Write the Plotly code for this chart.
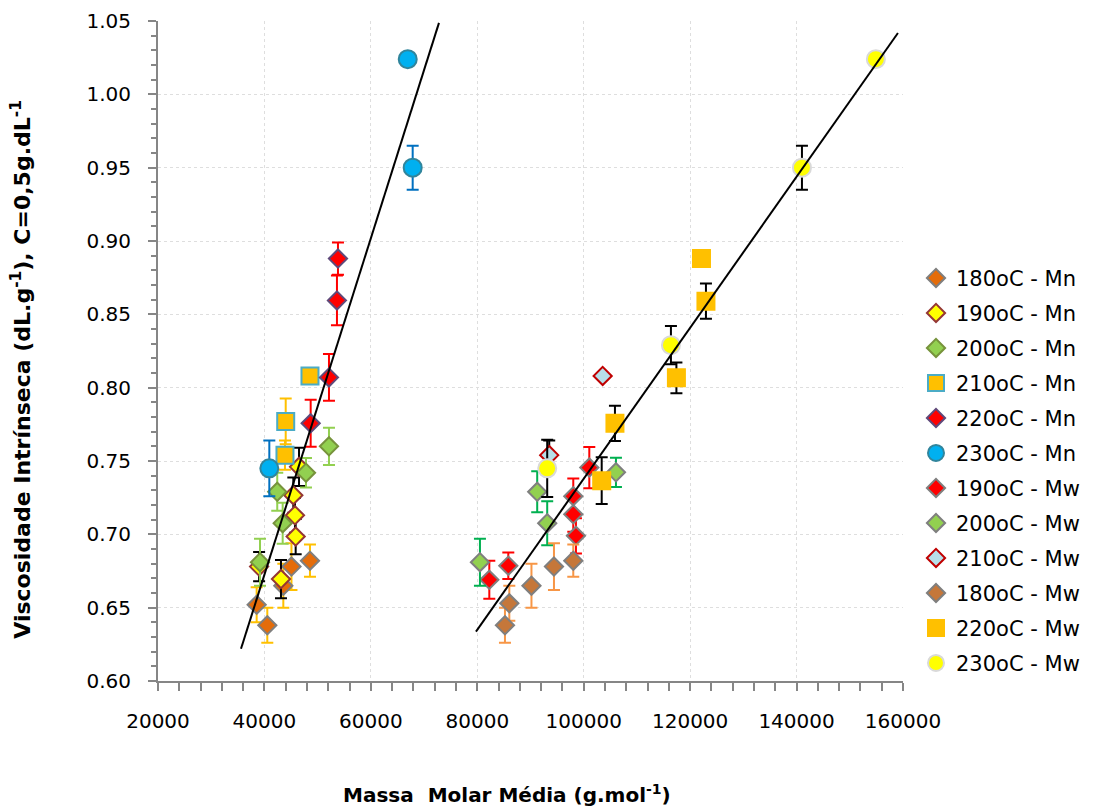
import plotly.graph_objects as go

# ---------------- data ----------------
names = ["180oC - Mn", "190oC - Mn", "200oC - Mn", "210oC - Mn", "220oC - Mn", "230oC - Mn",
         "190oC - Mw", "200oC - Mw", "210oC - Mw", "180oC - Mw", "220oC - Mw", "230oC - Mw"]

x_180_mn = [38540, 40540, 43550, 45080, 48560]
y_180_mn = [0.652, 0.638, 0.665, 0.678, 0.682]
e_180_mn = [0.012, 0.012, 0.015, 0.016, 0.011]

x_190_mn = [39000, 43110, 45870, 45740, 45430, 46500]
y_190_mn = [0.678, 0.6695, 0.6985, 0.713, 0.7267, 0.746]
e_190_mn = [0.010, 0.013, 0.012, 0.012, 0.012, 0.013]

x_200_mn = [39170, 42410, 43430, 47810, 52130]
y_200_mn = [0.681, 0.729, 0.7076, 0.742, 0.760]
e_200_mn = [0.016, 0.013, 0.014, 0.010, 0.0127]

x_210_mn = [43860, 44000, 48560]
y_210_mn = [0.754, 0.777, 0.808]
e_210_mn = [0.010, 0.0156, 0.0]

x_220_mn = [48690, 52130, 53630, 53820]
y_220_mn = [0.7757, 0.807, 0.8595, 0.888]
e_220_mn = [0.016, 0.016, 0.017, 0.011]

x_230_mn = [40920, 66930, 67860]
y_230_mn = [0.745, 1.024, 0.950]
e_230_mn = [0.019, 0.0, 0.015]

x_190_mw = [82260, 85830, 98540, 98040, 98040, 101050]
y_190_mw = [0.669, 0.6786, 0.699, 0.7137, 0.726, 0.7455]
e_190_mw = [0.013, 0.009, 0.012, 0.012, 0.012, 0.014]

x_200_mw = [80500, 91260, 93140, 106060]
y_200_mw = [0.681, 0.729, 0.7076, 0.7423]
e_200_mw = [0.016, 0.014, 0.015, 0.010]

x_210_mw = [93520, 103560]
y_210_mw = [0.754, 0.808]
e_210_mw = [0.010, 0.0]

x_180_mw = [85200, 86020, 90180, 94410, 98040]
y_180_mw = [0.638, 0.653, 0.665, 0.678, 0.682]
e_180_mw = [0.012, 0.012, 0.015, 0.016, 0.011]

x_220_mw = [103380, 105870, 117420, 122970, 122130]
y_220_mw = [0.7366, 0.7757, 0.8067, 0.859, 0.888]
e_220_mw = [0.016, 0.012, 0.0105, 0.012, 0.003]

x_230_mw = [93140, 116390, 141010, 154900]
y_230_mw = [0.745, 0.829, 0.950, 1.024]
e_230_mw = [0.0195, 0.013, 0.015, 0.0]

# linear trend lines: end points
trend_mn_x = [35600, 72800]
trend_mn_y = [0.622, 1.0487]
trend_mw_x = [79750, 159050]
trend_mw_y = [0.6337, 1.0418]

x_ticks = [20000, 40000, 60000, 80000, 100000, 120000, 140000, 160000]
y_ticks = [0.60, 0.65, 0.70, 0.75, 0.80, 0.85, 0.90, 0.95, 1.00, 1.05]

# ---------------- styles ----------------
series = [
    (x_180_mn, y_180_mn, e_180_mn, "diamond", 14, "#E46C0A", "#7F7F7F", "#FFC000"),
    (x_190_mn, y_190_mn, e_190_mn, "diamond", 14, "#FFFF00", "#953735", "#000000"),
    (x_200_mn, y_200_mn, e_200_mn, "diamond", 14, "#92D050", "#77933C", "#92D050"),
    (x_210_mn, y_210_mn, e_210_mn, "square", 17, "#FFC000", "#4BACC6", "#FFC000"),
    (x_220_mn, y_220_mn, e_220_mn, "diamond", 14, "#FF0000", "#5F497A", "#FF0000"),
    (x_230_mn, y_230_mn, e_230_mn, "circle", 18, "#00B0F0", "#31859C", "#0070C0"),
    (x_190_mw, y_190_mw, e_190_mw, "diamond", 14, "#FF0000", "#7F7F7F", "#FF0000"),
    (x_200_mw, y_200_mw, e_200_mw, "diamond", 14, "#92D050", "#7F7F7F", "#00B050"),
    (x_210_mw, y_210_mw, e_210_mw, "diamond", 14, "#B7DEE8", "#C00000", "#000000"),
    (x_180_mw, y_180_mw, e_180_mw, "diamond", 14, "#C5773A", "#7F7F7F", "#F79646"),
    (x_220_mw, y_220_mw, e_220_mw, "square", 17, "#FFC000", "#FFC000", "#000000"),
    (x_230_mw, y_230_mw, e_230_mw, "circle", 18, "#FFFF00", "#D9D9D9", "#000000"),
]

FONT = "DejaVu Sans"
fig = go.Figure()

for i, (name, (xs, ys, es, sym, size, fill, border, ecol)) in enumerate(zip(names, series)):
    fig.add_trace(go.Scatter(
        x=xs, y=ys, name=name, mode="markers", legendgroup=f"g{i}",
        marker=dict(symbol=sym, size=size, color=fill, line=dict(color=border, width=2)),
        error_y=dict(type="data", array=es, visible=True, color=ecol, thickness=2, width=6),
    ))

for tx, ty in [(trend_mn_x, trend_mn_y), (trend_mw_x, trend_mw_y)]:
    fig.add_trace(go.Scatter(x=tx, y=ty, mode="lines", showlegend=False,
                             line=dict(color="black", width=2), hoverinfo="skip"))

axis_common = dict(
    showline=True, linecolor="#868686", linewidth=2, mirror=False,
    ticks="outside", ticklen=8, tickwidth=2, tickcolor="#868686",
    showgrid=True, gridcolor="#DEDEDE", griddash="dot", gridwidth=1,
    zeroline=False, tickfont=dict(family=FONT, size=20, color="#000000"),
)

fig.update_xaxes(range=[20000, 160000], tickvals=x_ticks, ticktext=[str(v) for v in x_ticks],
                 ticklabelstandoff=13,
                 minor=dict(dtick=4000, tick0=20000, ticks="outside", ticklen=8,
                            tickwidth=2, tickcolor="#868686", showgrid=False),
                 **axis_common)
fig.update_yaxes(range=[0.60, 1.05], tickvals=y_ticks,
                 ticktext=[f"{v:.2f}" for v in y_ticks],
                 ticklabelstandoff=13,
                 minor=dict(dtick=0.01, tick0=0.60, ticks="outside", ticklen=5,
                            tickwidth=2, tickcolor="#868686", showgrid=False),
                 **axis_common)

fig.add_annotation(text="<b>Massa  Molar Média (g.mol<sup>-1</sup>)</b>", xref="paper", yref="paper",
                   x=(507 - 158) / 745, y=(681.5 - 795) / 660.5, showarrow=False,
                   xanchor="center", yanchor="middle", font=dict(family=FONT, size=20, color="black"))
fig.add_annotation(text="<b>Viscosidade Intrínseca (dL.g<sup>-1</sup>), C=0,5g.dL<sup>-1</sup></b>",
                   xref="paper", yref="paper", textangle=-90,
                   x=(21 - 158) / 745, y=(681.5 - 370) / 660.5, showarrow=False,
                   xanchor="center", yanchor="middle", font=dict(family=FONT, size=22, color="black"))

fig.update_layout(
    width=1094, height=808,
    margin=dict(l=158, r=191, t=21, b=126.5, autoexpand=False),
    paper_bgcolor="white", plot_bgcolor="white",
    font=dict(family=FONT, color="black"),
    showlegend=True,
    legend=dict(x=(916 - 158) / 745, xanchor="left", y=(681.5 - 258) / 660.5, yanchor="top",
                font=dict(family=FONT, size=21, color="black"), tracegroupgap=4.7,
                bgcolor="rgba(0,0,0,0)", borderwidth=0),
)

fig.write_html("out.html")
